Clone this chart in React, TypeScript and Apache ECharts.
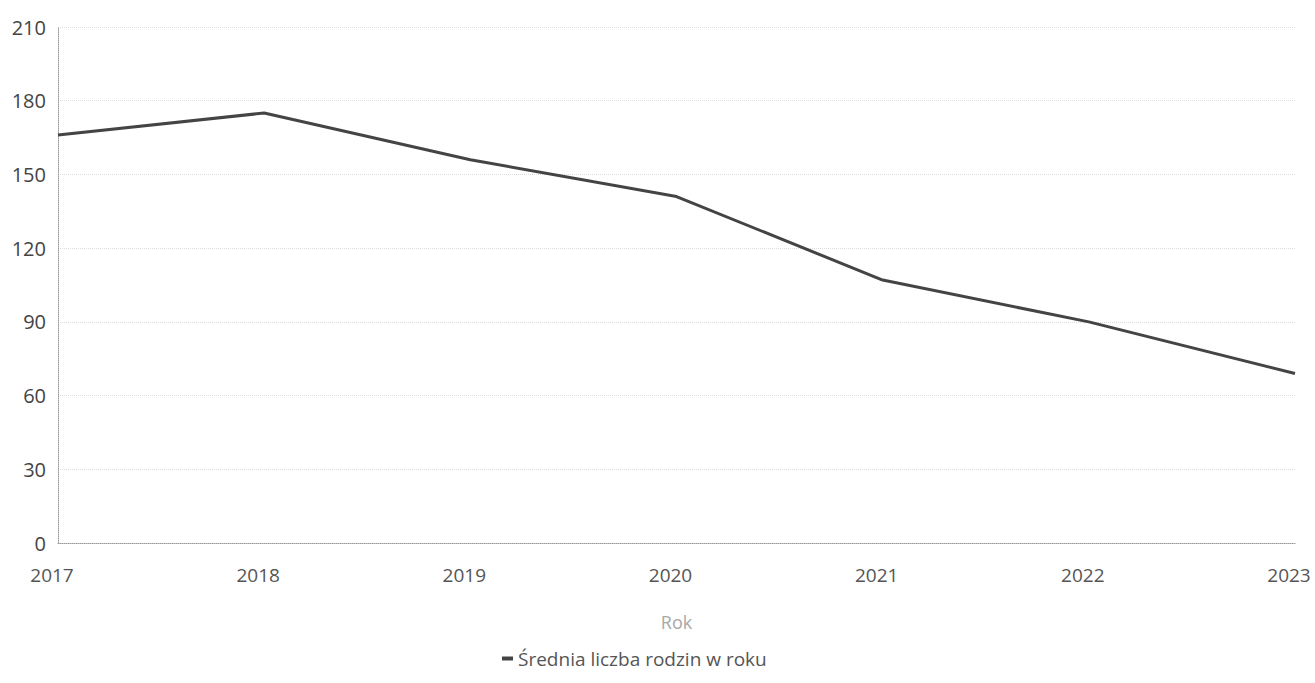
import React, { useEffect, useRef } from "react";
import * as echarts from "echarts";

const years = ["2017", "2018", "2019", "2020", "2021", "2022", "2023"];
const avgFamilies = [166, 175, 156, 141, 107, 90, 69];
const seriesName = "Średnia liczba rodzin w roku";
const xAxisName = "Rok";

export default function App() {
  const ref = useRef<HTMLDivElement>(null);
  useEffect(() => {
    document.body.style.margin = "0";
    const chart = echarts.init(ref.current!, null, { renderer: "svg" });
    const font = "'Open Sans', 'Noto Sans', sans-serif";
    chart.setOption({
      animation: false,
      backgroundColor: "#ffffff",
      grid: { left: 58, right: 20, top: 27, bottom: 140, containLabel: false },
      xAxis: {
        type: "category",
        data: years,
        boundaryGap: false,
        name: xAxisName,
        nameLocation: "middle",
        nameGap: 70,
        nameTextStyle: { color: "#a8a8a8", fontSize: 18, fontFamily: font },
        axisLine: { show: true, lineStyle: { color: "#9a9a9a", width: 1, type: "dotted" } },
        axisTick: { show: false },
        axisLabel: {
          color: "#555555",
          fontSize: 19,
          fontFamily: font,
          margin: 22,
          padding: [0, 12, 0, 0],
        },
        splitLine: { show: false },
      },
      yAxis: {
        type: "value",
        min: 0,
        max: 210,
        interval: 30,
        axisLine: { show: true, lineStyle: { color: "#9a9a9a", width: 1, type: "dotted" } },
        axisTick: { show: false },
        axisLabel: { color: "#444444", fontSize: 20, fontFamily: font, margin: 12 },
        splitLine: { show: true, lineStyle: { color: "#dcdcdc", width: 1, type: "dotted" } },
      },
      legend: {
        show: true,
        left: 497,
        top: 644,
        icon: "rect",
        itemWidth: 11,
        itemHeight: 4,
        itemGap: 8,
        textStyle: { color: "#555555", fontSize: 19, fontFamily: font },
        data: [seriesName],
      },
      series: [
        {
          name: seriesName,
          type: "line",
          data: avgFamilies,
          symbol: "none",
          lineStyle: { color: "#444444", width: 3 },
          itemStyle: { color: "#444444" },
        },
      ],
    });
    return () => chart.dispose();
  }, []);
  return <div ref={ref} style={{ width: 1315, height: 683 }} />;
}
